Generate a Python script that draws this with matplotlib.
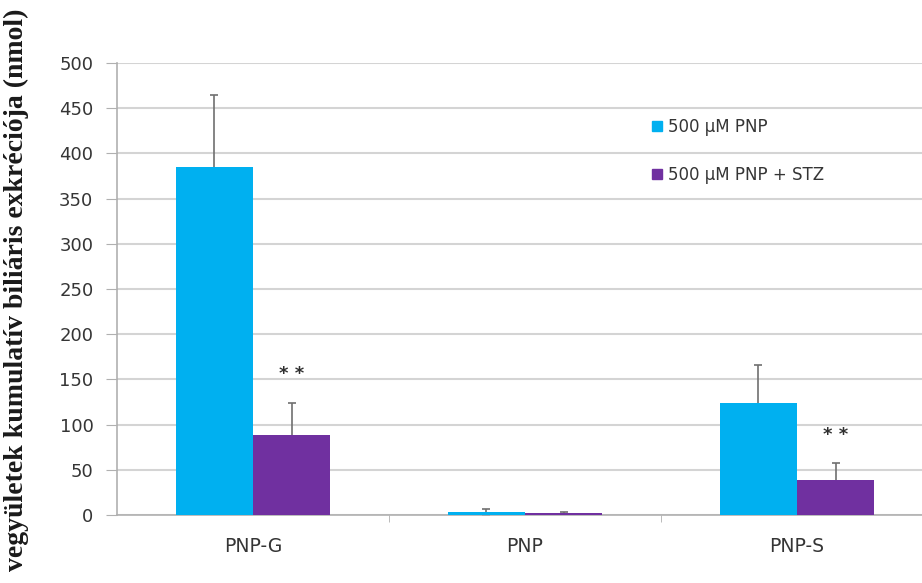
import numpy as np
import matplotlib.pyplot as plt
from matplotlib.lines import Line2D

groups = ['PNP-G', 'PNP', 'PNP-S']
pnp_mean = [385, 3, 124]
pnp_err = [80, 4, 42]
stz_mean = [88, 2, 39]
stz_err = [36, 1, 18]
stars = ['* *', '', '* *']
series_names = ['500 µM PNP', '500 µM PNP + STZ']

blue = '#00B0F0'
purple = '#7030A0'
txt = '#353535'

fig = plt.figure(figsize=(9.22, 5.83), dpi=100)
ax = fig.add_axes([117/922, 68/583, 816/922, 452/583])

ind = np.arange(len(groups))
width = 0.284

# error bars sit behind the bars so only the upper half shows
ax.bar(ind - width/2, pnp_mean, width, color=blue, zorder=3)
ax.bar(ind + width/2, stz_mean, width, color=purple, zorder=3)
ax.errorbar(ind - width/2, pnp_mean, yerr=pnp_err, fmt='none',
            ecolor='#707070', elinewidth=1.2, capsize=3, capthick=1.2, zorder=2)
ax.errorbar(ind + width/2, stz_mean, yerr=stz_err, fmt='none',
            ecolor='#707070', elinewidth=1.2, capsize=3, capthick=1.2, zorder=2)

# significance marks above the STZ bars
for i in range(len(groups)):
    if stars[i]:
        ax.text(ind[i] + width/2, stz_mean[i] + stz_err[i] + 22, stars[i],
                ha='center', va='bottom', fontsize=13, color='#303030',
                fontweight='bold')

ax.set_xlim(-0.5, 2.5)
ax.set_ylim(0, 500)
ax.set_yticks(np.arange(0, 501, 50))
ax.set_xticks(ind)
ax.set_xticklabels(groups)
ax.set_xticks([0.5, 1.5], minor=True)
ax.grid(axis='y', color='#d4d4d4', linewidth=1.5, zorder=0)
ax.set_axisbelow(True)

for s in ['top', 'right']:
    ax.spines[s].set_visible(False)
for s in ['left', 'bottom']:
    ax.spines[s].set_color('#b0b0b0')
    ax.spines[s].set_linewidth(1.2)

ax.tick_params(axis='x', which='major', length=0, pad=16, labelsize=13.5,
               labelcolor=txt)
ax.tick_params(axis='x', which='minor', length=5, color='#b0b0b0')
ax.tick_params(axis='y', length=8, color='#b0b0b0', pad=9, labelsize=13,
               labelcolor=txt)

handles = [Line2D([], [], marker='s', linestyle='none', markersize=7,
                  color=blue),
           Line2D([], [], marker='s', linestyle='none', markersize=7,
                  color=purple)]
fig.legend(handles, series_names, loc='upper left',
           bbox_to_anchor=(635/922, 1 - 103/583), frameon=False,
           handlelength=0.8, handletextpad=0.3, labelspacing=1.8,
           prop={'family': 'DejaVu Sans', 'size': 12}, labelcolor=txt)

fig.text(0.018, 0.985, 'vegyületek kumulatív biliáris exkréciója (nmol)',
         rotation=90, ha='center', va='top', fontsize=20, fontweight='bold',
         family='Liberation Serif', color='#1a1a1a')

fig.savefig('out.png', dpi=100)
